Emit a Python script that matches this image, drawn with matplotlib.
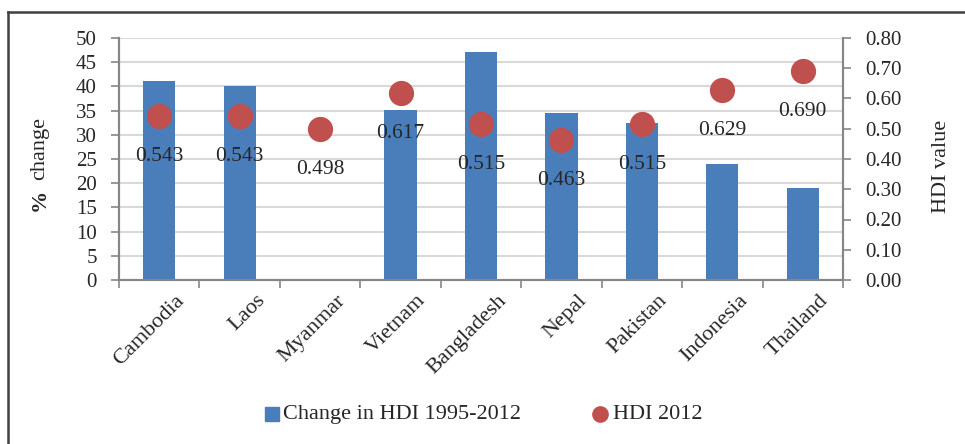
import matplotlib.pyplot as plt
import matplotlib.transforms as mtransforms
import numpy as np
from matplotlib.lines import Line2D
from matplotlib.patches import Rectangle

plt.rcParams['font.family'] = ['Liberation Serif', 'DejaVu Serif']

countries = ['Cambodia', 'Laos', 'Myanmar', 'Vietnam', 'Bangladesh',
             'Nepal', 'Pakistan', 'Indonesia', 'Thailand']
pct_change = [41.1, 40.0, np.nan, 35.1, 47.1, 34.5, 32.4, 24.0, 19.0]
hdi_2012 = [0.543, 0.543, 0.498, 0.617, 0.515, 0.463, 0.515, 0.629, 0.690]

bar_color = '#4A7EBB'
dot_color = '#C0504D'
axis_color = '#868686'
text_color = '#262626'

fig = plt.figure(figsize=(9.65, 4.44), dpi=100)
ax = fig.add_axes([119 / 965, 1 - 280 / 444, (843 - 119) / 965, (280 - 38) / 444])
ax2 = ax.twinx()

x = np.arange(len(countries))
ax.bar(x, pct_change, width=0.4, color=bar_color, zorder=2)
ax2.scatter(x, hdi_2012, s=330, color=dot_color, zorder=3, linewidths=0)
for xi, v in zip(x, hdi_2012):
    ax2.annotate(f'{v:.3f}', (xi, v), xytext=(0, -29), textcoords='offset points',
                 ha='center', va='center', fontsize=15.5, color=text_color)

ax.set_xlim(-0.5, len(countries) - 0.5)
ax.set_ylim(0, 50)
ax2.set_ylim(0, 0.8)
ax.set_yticks(range(0, 51, 5))
ax2.set_yticks(np.arange(0, 0.81, 0.1))
ax2.set_yticklabels([f'{t:.2f}' for t in np.arange(0, 0.81, 0.1)])
ax.yaxis.grid(True, color='#D9D9D9', linewidth=1.5, zorder=0)
ax.set_axisbelow(True)

ax.set_xticks(np.arange(len(countries) + 1) - 0.5, minor=False)
ax.set_xticklabels([])
ax.set_xticks(x, minor=True)
ax.set_xticklabels(countries, minor=True, rotation=45, ha='right',
                   rotation_mode='anchor', fontsize=16, color=text_color)
ax.tick_params(axis='x', which='minor', length=0, pad=8)
ax.tick_params(axis='x', which='major', length=6, color=axis_color, width=1.2)
shift = mtransforms.ScaledTranslation(16 / 100, 0, fig.dpi_scale_trans)
for lbl in ax.xaxis.get_minorticklabels():
    lbl.set_transform(lbl.get_transform() + shift)

ax.tick_params(axis='y', length=6, color=axis_color, width=1.2, pad=10,
               labelsize=15, labelcolor=text_color)
ax2.tick_params(axis='y', length=6, color=axis_color, width=1.2, pad=10,
                labelsize=15, labelcolor=text_color)

for a in (ax, ax2):
    a.spines['top'].set_visible(False)
    for s in ('left', 'right', 'bottom'):
        a.spines[s].set_color(axis_color)
        a.spines[s].set_linewidth(1.5)

fig.text(40 / 965, 1 - 200 / 444, '%', rotation=90, ha='center', va='center',
         fontsize=16, fontweight='bold', color=text_color)
fig.text(40 / 965, 1 - 149 / 444, 'change', rotation=90, ha='center', va='center',
         fontsize=16, color=text_color)
fig.text(941 / 965, 1 - 166 / 444, 'HDI value', rotation=90, ha='center', va='center',
         fontsize=16, color=text_color)

# legend drawn by hand
fig.add_artist(Rectangle((265 / 965, 1 - 421 / 444), 14 / 965, 14 / 444,
                         transform=fig.transFigure, color=bar_color))
fig.text(283 / 965, 1 - 414 / 444, 'Change in HDI 1995-2012', ha='left', va='center',
         fontsize=16, color=text_color)
fig.add_artist(Line2D([600 / 965], [1 - 414 / 444], transform=fig.transFigure,
                      marker='o', markersize=11, color=dot_color, linestyle=''))
fig.text(613 / 965, 1 - 414 / 444, 'HDI 2012', ha='left', va='center',
         fontsize=16, color=text_color)

# frame around the figure (cropped on right and bottom)
fig.add_artist(Line2D([8 / 965, 8 / 965], [0, 1 - 12 / 444], transform=fig.transFigure,
                      color='#404040', linewidth=1.8))
fig.add_artist(Line2D([8 / 965, 1], [1 - 12 / 444, 1 - 12 / 444], transform=fig.transFigure,
                      color='#404040', linewidth=1.8))

fig.savefig('out.png', dpi=100)
